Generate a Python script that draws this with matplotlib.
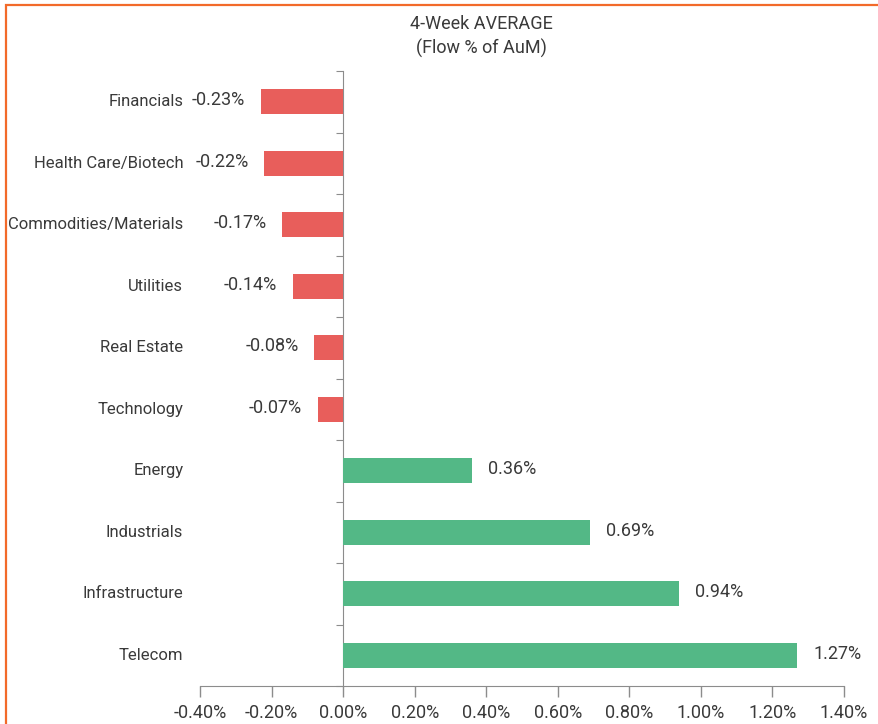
import matplotlib
matplotlib.use('Agg')
import matplotlib.pyplot as plt
from matplotlib.patches import Rectangle
from matplotlib.ticker import FuncFormatter
import numpy as np

plt.rcParams['font.family'] = ['Roboto', 'DejaVu Sans']

sectors = ["Financials", "Health Care/Biotech", "Commodities/Materials", "Utilities",
           "Real Estate", "Technology", "Energy", "Industrials", "Infrastructure", "Telecom"]
flows = [-0.23, -0.22, -0.17, -0.14, -0.08, -0.07, 0.36, 0.69, 0.94, 1.27]

red = '#E85E5B'
green = '#53B886'
txt = '#3A3A3A'

fig = plt.figure(figsize=(8.79, 7.24), dpi=100)
fig.patches.append(Rectangle((6/879, -0.2), 1.2, 1.2 - 5/724, transform=fig.transFigure,
                             fill=False, edgecolor='#F26A2A', linewidth=1.6))
ax = fig.add_axes([200/879, 1 - 686/724, 644/879, (686 - 71)/724])

y = np.arange(len(sectors))
colors = [red if v < 0 else green for v in flows]
ax.barh(y, flows, height=0.4, color=colors, zorder=2)

for yi, v in zip(y, flows):
    off = -11.5 if v < 0 else 11.5
    ax.annotate(f"{v:.2f}%", (v, yi), xytext=(off, 1), textcoords='offset points',
                ha='right' if v < 0 else 'left', va='center', fontsize=13, color=txt)

ax.set_xlim(-0.4, 1.4)
ax.set_ylim(len(sectors) - 0.5, -0.5)
ax.set_xticks(np.arange(-0.4, 1.41, 0.2))
ax.xaxis.set_major_formatter(FuncFormatter(lambda v, p: f"{v:.2f}%"))
ax.set_yticks(y)
ax.set_yticklabels(sectors, va='bottom')
ax.tick_params(axis='y', length=0, pad=12, labelsize=12, labelcolor=txt)
for lab in ax.get_yticklabels():
    lab.set_verticalalignment('center')
ax.tick_params(axis='x', length=8, width=1, color='#8C8C8C', direction='out', pad=5,
               labelsize=13, labelcolor=txt)

for s in ['top', 'right', 'left']:
    ax.spines[s].set_visible(False)
ax.spines['bottom'].set_color('#8C8C8C')

# zero axis with ticks at category boundaries
sec = ax.secondary_yaxis(0.4 / 1.8)
sec.set_yticks(np.arange(-0.5, len(sectors) + 0.5, 1))
sec.set_yticklabels([])
sec.tick_params(length=5, color='#8C8C8C', direction='out')
sec.spines['left'].set_color('#8C8C8C')

fig.text(481/879, 1 - 24/724, "4-Week AVERAGE", ha='center', va='center', fontsize=13, color=txt)
fig.text(481/879, 1 - 48/724, "(Flow % of AuM)", ha='center', va='center', fontsize=13, color=txt)

fig.savefig('out.png', dpi=100)
